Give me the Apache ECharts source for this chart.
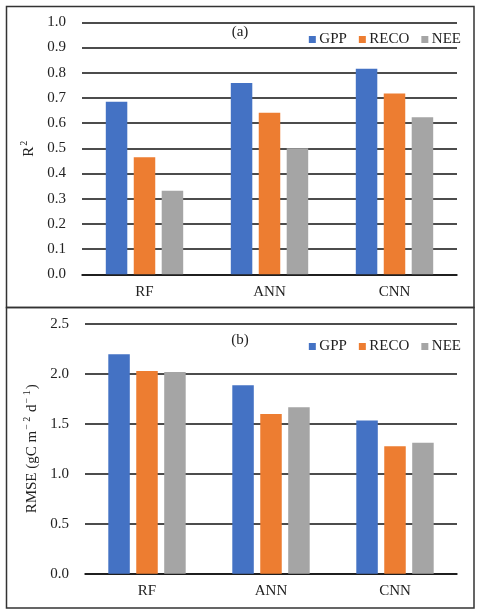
<!DOCTYPE html>
<html>
<head>
<meta charset="utf-8">
<script src="https://cdn.jsdelivr.net/npm/echarts@6/dist/echarts.min.js"></script>
<style>
  html, body { margin: 0; padding: 0; background: #fff; }
  #main { width: 480px; height: 614px; }
</style>
</head>
<body>
<div id="main"></div>
<script>
// 数据
var models = ['RF', 'ANN', 'CNN'];
var seriesNames = ['GPP', 'RECO', 'NEE'];
var colors = ['#4472C4', '#ED7D31', '#A5A5A5'];

// (a) R2
var r2Gpp = [0.685, 0.759, 0.816];
var r2Reco = [0.464, 0.641, 0.717];
var r2Nee = [0.332, 0.500, 0.623];

// (b) RMSE
var rmseGpp = [2.196, 1.886, 1.535];
var rmseReco = [2.030, 1.600, 1.275];
var rmseNee = [2.020, 1.666, 1.311];

var font = 'Liberation Serif';

function barSeries(name, data, idx, color) {
  return {
    name: name,
    type: 'bar',
    xAxisIndex: idx,
    yAxisIndex: idx,
    barWidth: 21.5,
    barGap: '30%',
    itemStyle: { color: color },
    data: data
  };
}

function xAxisOpt(idx, margin) {
  return {
    type: 'category',
    gridIndex: idx,
    data: models,
    axisLine: { lineStyle: { color: '#111', width: 1.6 } },
    axisTick: { show: false },
    axisLabel: { color: '#222', fontFamily: font, fontSize: 15, margin: margin }
  };
}

function yAxisOpt(idx, name, max, interval, gap) {
  return {
    type: 'value',
    gridIndex: idx,
    min: 0,
    max: max,
    interval: interval,
    name: name,
    nameLocation: 'middle',
    nameGap: gap,
    nameTextStyle: {
      color: '#222', fontFamily: font, fontSize: 15,
      rich: { s: { fontFamily: font, fontSize: 10, padding: [0, 1, 8, 1], color: '#222' } }
    },
    axisLine: { show: false },
    axisTick: { show: false },
    axisLabel: {
      color: '#222', fontFamily: font, fontSize: 15, margin: 16,
      formatter: function(v) { return v.toFixed(1); }
    },
    splitLine: { lineStyle: { color: '#111', width: 1.6 } }
  };
}

function legendOpt(top) {
  return {
    data: seriesNames,
    right: 14,
    top: top,
    itemWidth: 7,
    itemHeight: 7,
    itemGap: 12,
    icon: 'rect',
    textStyle: { color: '#222', fontFamily: font, fontSize: 15, padding: [0, 0, 0, -1.5] }
  };
}

var option = {
  backgroundColor: '#fff',
  animation: false,
  title: [
    { text: '(a)', left: 'center', top: 20, textStyle: { color: '#222', fontFamily: font, fontSize: 15, fontWeight: 'normal' } },
    { text: '(b)', left: 'center', top: 328, textStyle: { color: '#222', fontFamily: font, fontSize: 15, fontWeight: 'normal' } }
  ],
  legend: [legendOpt(27), legendOpt(334)],
  grid: [
    { left: 82, right: 23, top: 22.3, height: 252 },
    { left: 85, right: 23, top: 324, height: 249.7 }
  ],
  xAxis: [xAxisOpt(0, 10), xAxisOpt(1, 10)],
  yAxis: [
    yAxisOpt(0, 'R{s|2}', 1.0, 0.1, 42),
    yAxisOpt(1, 'RMSE (gC m{s|− 2} d{s|− 1})', 2.5, 0.5, 42)
  ],
  series: [
    barSeries('GPP', r2Gpp, 0, colors[0]),
    barSeries('RECO', r2Reco, 0, colors[1]),
    barSeries('NEE', r2Nee, 0, colors[2]),
    barSeries('GPP', rmseGpp, 1, colors[0]),
    barSeries('RECO', rmseReco, 1, colors[1]),
    barSeries('NEE', rmseNee, 1, colors[2])
  ],
  // 外框
  graphic: [
    { type: 'rect', shape: { x: 6.5, y: 6.5, width: 467.5, height: 301 }, style: { fill: 'none', stroke: '#333', lineWidth: 1.5 } },
    { type: 'rect', shape: { x: 6.5, y: 307.5, width: 467.5, height: 300.5 }, style: { fill: 'none', stroke: '#333', lineWidth: 1.5 } }
  ]
};

var myChart = echarts.init(document.getElementById('main'));
myChart.setOption(option);
</script>
</body>
</html>
